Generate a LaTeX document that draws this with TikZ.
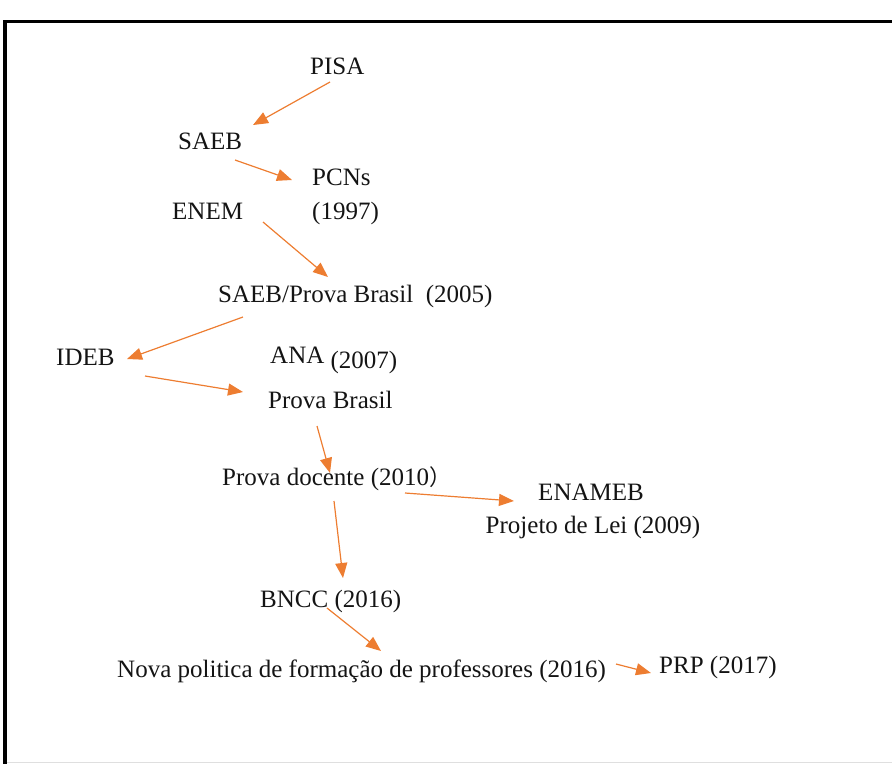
\documentclass[tikz,border=0pt]{standalone}
\usepackage{fontspec}
\setmainfont{Liberation Serif}
\newfontfamily\cjk{Noto Sans CJK SC}
\usetikzlibrary{arrows.meta}
\definecolor{arr}{HTML}{ED7D31}
\definecolor{txtc}{HTML}{141414}
\tikzset{
  lbl/.style={inner sep=0pt, anchor=base west, text=txtc, font=\fontsize{25}{30}\selectfont},
  lblc/.style={lbl, anchor=base},
  conn/.style={draw=arr, line width=1.2pt, -{Triangle[length=15pt,width=12pt]}}
}
\begin{document}
\begin{tikzpicture}[x=1pt,y=-1pt]
\useasboundingbox (0,0) rectangle (892,764);
% frame
\draw[line width=3.5pt] (3,21.5) -- (892,21.5);
\draw[line width=4pt] (5,20) -- (5,764);
\draw[gray!25, line width=1pt] (7,762.5) -- (892,762.5);
% texts
\node[lbl] (pisa) at (310,74) {PISA};
\node[lbl] (saeb) at (178,149) {SAEB};
\node[lbl] (pcns) at (312,185) {PCNs};
\node[lbl] (pcnsy) at (312,219) {(1997)};
\node[lbl] (enem) at (172,219) {ENEM};
\node[lbl] (saebpb) at (218,302) {SAEB/Prova Brasil\ \ (2005)};
\node[lbl] (ideb) at (56,365) {IDEB};
\node[lbl] (ana) at (270,363) {ANA \raisebox{-5pt}{(2007)}};
\node[lbl] (pb) at (268,408) {Prova Brasil};
\node[lbl] (pd) at (222,485) {Prova docente (2010{\cjk\fontsize{22}{26}\selectfont ）}};
\node[lblc] (enameb) at (591,500) {ENAMEB};
\node[lblc] (pl) at (593,533) {Projeto de Lei (2009)};
\node[lbl] (bncc) at (260,607) {BNCC (2016)};
\node[lbl] (nova) at (117,677) {Nova politica de formação de professores (2016)};
\node[lbl] (prp) at (659,673) {PRP (2017)};
% connector ends
\coordinate (c1s) at (330,82);  \coordinate (c1e) at (253,125);
\coordinate (c2s) at (235,160); \coordinate (c2e) at (292,180);
\coordinate (c3s) at (263,222); \coordinate (c3e) at (328,277);
\coordinate (c4s) at (243,317); \coordinate (c4e) at (127,359);
\coordinate (c5s) at (145,376); \coordinate (c5e) at (243,392);
\coordinate (c6s) at (317,426); \coordinate (c6e) at (330,473);
\coordinate (c7s) at (405,493); \coordinate (c7e) at (514,501);
\coordinate (c8s) at (334,501); \coordinate (c8e) at (343,578);
\coordinate (c9s) at (327,608); \coordinate (c9e) at (381,651);
\coordinate (c10s) at (616,664); \coordinate (c10e) at (651,673);
% connectors
\draw[conn] (c1s) -- (c1e);
\draw[conn] (c2s) -- (c2e);
\draw[conn] (c3s) -- (c3e);
\draw[conn] (c4s) -- (c4e);
\draw[conn] (c5s) -- (c5e);
\draw[conn] (c6s) -- (c6e);
\draw[conn] (c7s) -- (c7e);
\draw[conn] (c8s) -- (c8e);
\draw[conn] (c9s) -- (c9e);
\draw[conn] (c10s) -- (c10e);
\end{tikzpicture}
\end{document}
